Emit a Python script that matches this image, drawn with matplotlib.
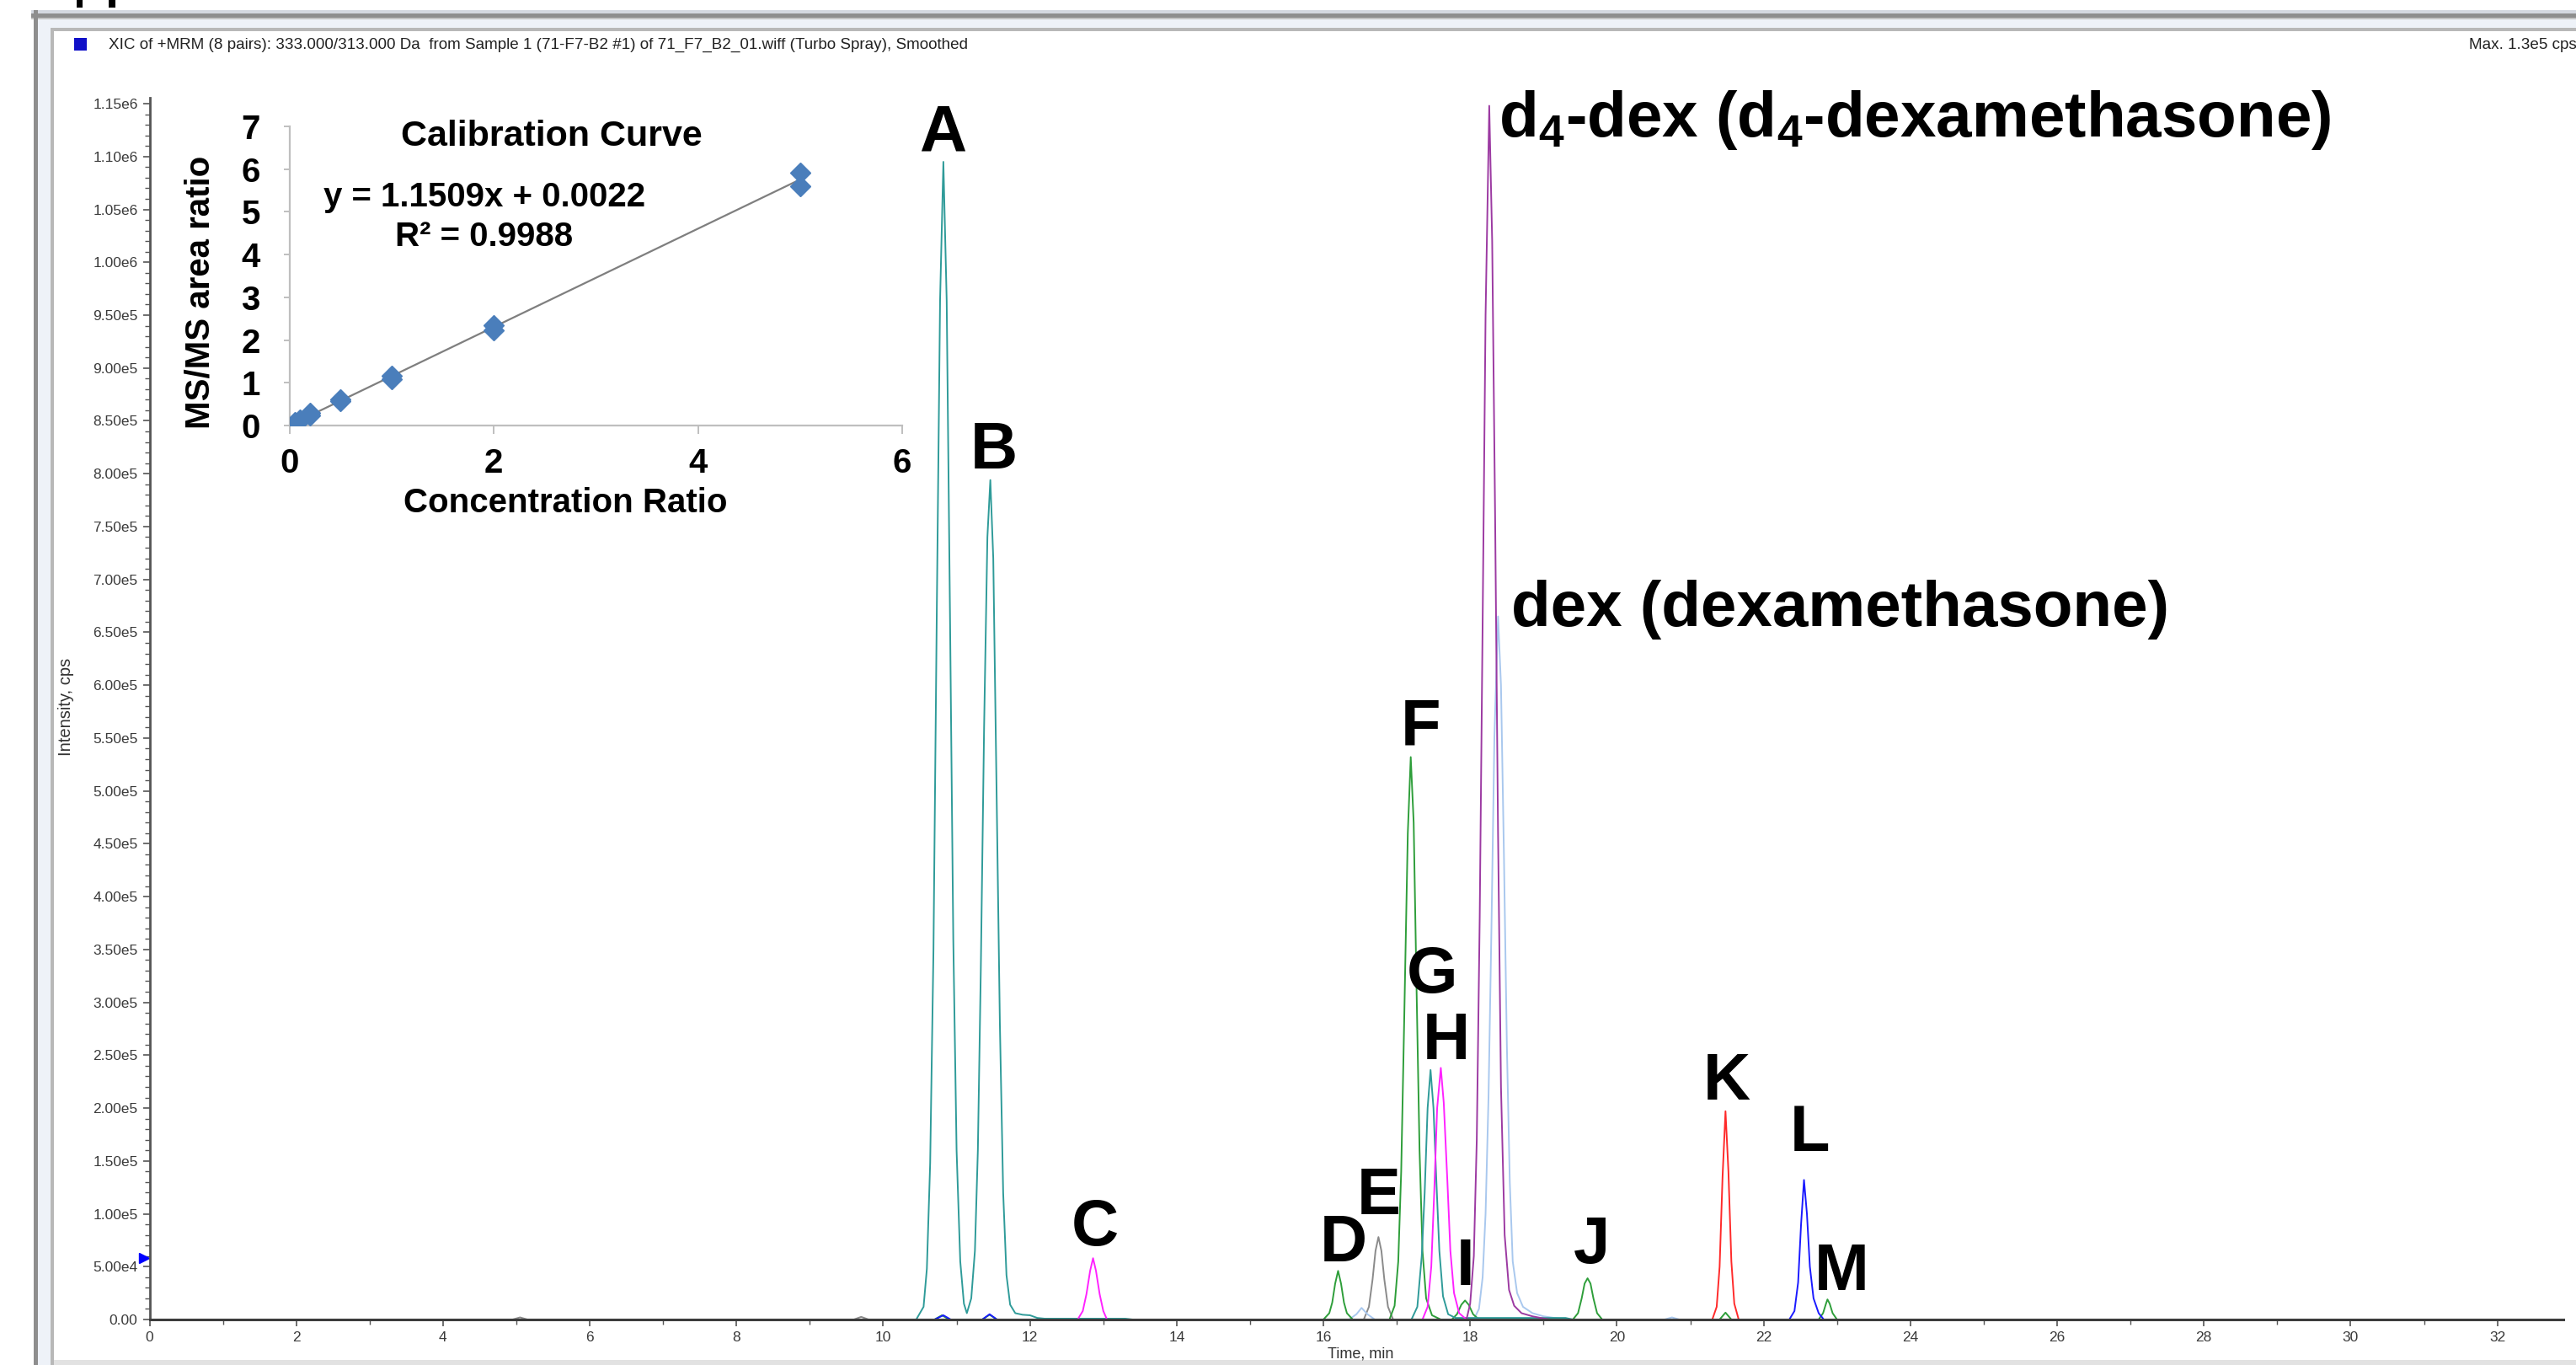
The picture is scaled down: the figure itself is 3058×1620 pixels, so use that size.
import numpy as np
import matplotlib.pyplot as plt
from matplotlib.patches import Rectangle
from matplotlib.ticker import MultipleLocator, FuncFormatter

plt.rcParams['font.family'] = ['Liberation Sans', 'DejaVu Sans']
plt.rcParams['mathtext.default'] = 'regular'

W, H = 3058, 1620

# --- calibration curve (inset) ---
calib_x = [0.05, 0.05, 0.1, 0.1, 0.2, 0.2, 0.5, 0.5, 1, 1, 2, 2, 5, 5]
calib_y = [0.05, 0.07, 0.12, 0.14, 0.24, 0.30, 0.57, 0.62, 1.08, 1.16, 2.22, 2.35, 5.60, 5.91]
fit_slope = 1.1509
fit_intercept = 0.0022
fit_r2 = 0.9988

# --- XIC traces: (time min, intensity cps) ---
teal = [(0, 0), (10.45, 0), (10.55, 1.2e4), (10.595, 4.8e4), (10.64, 1.48e5), (10.685, 3.5e5),
        (10.73, 6.68e5), (10.775, 9.64e5), (10.82, 1.095e6), (10.865, 9.64e5), (10.91, 6.68e5),
        (10.955, 3.6e5), (11.0, 1.6e5), (11.05, 5.5e4), (11.1, 1.5e4), (11.14, 6e3),
        (11.2, 2e4), (11.25, 6.5e4), (11.29, 1.6e5), (11.33, 3.3e5), (11.375, 5.6e5), (11.42, 7.4e5),
        (11.46, 7.94e5), (11.5, 7.2e5), (11.545, 5.0e5), (11.59, 2.8e5), (11.635, 1.2e5),
        (11.68, 4.2e4), (11.73, 1.4e4), (11.8, 6e3), (11.9, 4.5e3), (12.0, 4e3), (12.1, 1.5e3),
        (12.2, 800), (13.3, 800), (13.4, 0), (17.2, 0), (17.28, 1.2e4), (17.34, 6e4), (17.38, 1.2e5),
        (17.42, 2.0e5), (17.46, 2.36e5), (17.5, 2.0e5), (17.54, 1.3e5), (17.58, 6.5e4),
        (17.63, 2.2e4), (17.7, 5e3), (17.8, 1.5e3), (19.3, 1.5e3), (19.4, 0), (23.5, 0)]
green = [(0, 0), (10.7, 0), (10.8, 4e3), (10.9, 0), (11.35, 0), (11.45, 4.5e3), (11.55, 0),
         (16.0, 0), (16.08, 6e3), (16.12, 1.6e4), (16.16, 3.4e4), (16.2, 4.6e4), (16.24, 3.4e4),
         (16.28, 1.6e4), (16.32, 6e3), (16.4, 0), (16.9, 0), (16.97, 1.3e4), (17.02, 5.5e4),
         (17.06, 1.4e5), (17.1, 2.8e5), (17.15, 4.6e5), (17.19, 5.32e5), (17.23, 4.7e5),
         (17.27, 3.1e5), (17.31, 1.6e5), (17.35, 6.5e4), (17.4, 2e4), (17.48, 4e3), (17.6, 0),
         (17.75, 0), (17.82, 5e3), (17.88, 1.4e4), (17.93, 1.8e4), (17.98, 1.4e4), (18.04, 5e3),
         (18.12, 0), (19.4, 0), (19.47, 6e3), (19.52, 2e4), (19.56, 3.4e4), (19.6, 3.9e4),
         (19.64, 3.4e4), (19.68, 2e4), (19.73, 6e3), (19.8, 0), (21.4, 0), (21.48, 6.5e3),
         (21.56, 0), (22.75, 0), (22.81, 6e3), (22.85, 1.5e4), (22.87, 1.9e4), (22.9, 1.5e4),
         (22.94, 6e3), (23.0, 0), (23.5, 0)]
magenta = [(0, 0), (12.65, 0), (12.72, 8e3), (12.77, 2.4e4), (12.82, 4.6e4), (12.86, 5.8e4),
           (12.9, 4.6e4), (12.95, 2.4e4), (13.0, 8e3), (13.05, 0), (17.35, 0), (17.42, 1.2e4),
           (17.47, 5e4), (17.51, 1.2e5), (17.55, 2.0e5), (17.6, 2.38e5), (17.64, 2.05e5),
           (17.69, 1.3e5), (17.73, 6.5e4), (17.78, 2.5e4), (17.85, 6e3), (17.95, 0), (23.5, 0)]
gray = [(0, 0), (4.95, 0), (5.05, 2e3), (5.15, 0), (9.6, 0), (9.7, 2.5e3), (9.8, 0),
        (16.55, 0), (16.62, 1.2e4), (16.67, 3.8e4), (16.71, 6.5e4), (16.75, 7.8e4),
        (16.79, 6.5e4), (16.83, 3.8e4), (16.88, 1.2e4), (16.95, 0), (23.5, 0)]
purple = [(0, 0), (17.95, 0), (18.0, 1.5e4), (18.05, 6e4), (18.09, 1.7e5), (18.13, 3.8e5),
          (18.17, 6.6e5), (18.21, 9.5e5), (18.26, 1.148e6), (18.3, 1.02e6), (18.34, 7.6e5),
          (18.38, 4.6e5), (18.42, 2.2e5), (18.47, 8e4), (18.53, 2.8e4), (18.6, 1.3e4),
          (18.7, 6e3), (18.85, 3e3), (19.0, 1e3), (19.1, 0), (23.5, 0)]
lightblue = [(0, 0), (16.35, 0), (16.45, 5e3), (16.52, 1.1e4), (16.6, 5e3), (16.7, 0),
             (18.05, 0), (18.12, 1e4), (18.17, 4e4), (18.21, 1.0e5), (18.25, 2.1e5),
             (18.29, 3.7e5), (18.33, 5.5e5), (18.38, 6.65e5), (18.42, 6.0e5), (18.46, 4.4e5),
             (18.5, 2.6e5), (18.54, 1.3e5), (18.58, 5.5e4), (18.64, 2.5e4), (18.72, 1.2e4),
             (18.85, 6e3), (19.0, 3e3), (19.2, 1e3), (19.4, 0), (20.65, 0), (20.75, 2e3),
             (20.85, 0), (23.5, 0)]
red = [(0, 0), (21.3, 0), (21.36, 1.2e4), (21.4, 5e4), (21.44, 1.35e5), (21.48, 1.97e5),
       (21.52, 1.4e5), (21.56, 5.5e4), (21.6, 1.5e4), (21.66, 0), (23.5, 0)]
blue = [(0, 0), (10.7, 0), (10.82, 4e3), (10.92, 0), (11.35, 0), (11.45, 5e3), (11.55, 0),
        (22.35, 0), (22.42, 8e3), (22.47, 3.5e4), (22.51, 9e4), (22.55, 1.32e5), (22.59, 1.0e5),
        (22.63, 5e4), (22.68, 2e4), (22.75, 6e3), (22.82, 0), (23.5, 0)]

peak_names = ['A', 'B', 'C', 'D', 'E', 'F', 'G', 'H', 'I', 'J', 'K', 'L', 'M']
header = 'XIC of +MRM (8 pairs): 333.000/313.000 Da  from Sample 1 (71-F7-B2 #1) of 71_F7_B2_01.wiff (Turbo Spray), Smoothed'
max_text = 'Max. 1.3e5 cps'
marker_level = 5.8e4

# label anchor positions (time, baseline intensity)
label_pos = [(10.81, 1.105e6), (11.51, 8.05e5), (12.88, 7.0e4), (16.27, 5.5e4), (16.75, 1.0e5),
             (17.33, 5.43e5), (17.48, 3.09e5), (17.67, 2.46e5), (17.93, 3.3e4), (19.66, 5.3e4),
             (21.50, 2.08e5), (22.63, 1.59e5), (23.06, 2.8e4)]

fig = plt.figure(figsize=(W / 100, H / 100), dpi=100)


def frame_rect(x0, y0, x1, y1, color):
    fig.add_artist(Rectangle((x0 / W, 1 - y1 / H), (x1 - x0) / W, (y1 - y0) / H,
                             transform=fig.transFigure, color=color, lw=0, zorder=0))


# window frame
frame_rect(91, 0, 98, 9, 'black')
frame_rect(129, 0, 137, 9, 'black')
frame_rect(37, 12, W, 16, '#d4d8e0')
frame_rect(37, 16, W, 21, '#8e8e8e')
frame_rect(37, 21, W, 23, '#c4c4c4')
frame_rect(45, 23, W, 33, '#eef2f8')
frame_rect(60, 33, W, 37, '#b8b8b8')
frame_rect(40, 12, 45, H, '#8e8e8e')
frame_rect(45, 23, 60, H, '#eef2f8')
frame_rect(60, 33, 64, H, '#b8b8b8')
frame_rect(64, H - 6, W, H, '#e2e2e2')

# header
frame_rect(88, 45, 103, 60, '#1010c8')
fig.text(129 / W, 1 - 53 / H, header, fontsize=13.6, color='#222222', ha='left', va='center')
fig.text(2931 / W, 1 - 53 / H, max_text, fontsize=13.6, color='#222222', ha='left', va='center')

# main chromatogram axes
ax = fig.add_axes([177.5 / W, 1 - 1566 / H, (3043 - 177.5) / W, (1566 - 116) / H])
ax.set_xlim(0, 32.9)
ax.set_ylim(0, 1.1556e6)

traces = [(gray, '#8a8a8a'), (lightblue, '#a9c8ee'), (green, '#2e9e3a'), (teal, '#2f9b99'),
          (magenta, '#ff22ff'), (purple, '#9c3aa2'), (red, '#ff2a2a'), (blue, '#1a1aff')]
for pts, col in traces:
    arr = np.array(pts)
    ax.plot(arr[:, 0], arr[:, 1], color=col, lw=1.4)

for name, (t, y) in zip(peak_names, label_pos):
    ax.text(t, y, name, fontsize=56, fontweight='bold', ha='center', va='baseline')

ax.text(18.39, 1.119e6, 'd$_4$-dex (d$_4$-dexamethasone)', fontsize=55, fontweight='bold',
        ha='left', va='baseline')
ax.text(18.56, 6.56e5, 'dex (dexamethasone)', fontsize=55, fontweight='bold',
        ha='left', va='baseline')

ax.plot([-0.07], [marker_level], marker='>', ms=8, color='#0000ff', clip_on=False)

for s in ['top', 'right']:
    ax.spines[s].set_visible(False)
ax.spines['left'].set_color('#555555')
ax.spines['left'].set_linewidth(2)
ax.spines['bottom'].set_color('#3c3c3c')
ax.spines['bottom'].set_linewidth(2.2)


def sci_fmt(v, pos):
    v = round(v)
    if v < 0:
        return ''
    if v == 0:
        return '0.00'
    e = int(np.floor(np.log10(v)))
    return f'{v / 10 ** e:.2f}e{e}'


ax.xaxis.set_major_locator(MultipleLocator(2))
ax.xaxis.set_minor_locator(MultipleLocator(1))
ax.yaxis.set_major_locator(MultipleLocator(5e4))
ax.yaxis.set_minor_locator(MultipleLocator(1e4))
ax.yaxis.set_major_formatter(FuncFormatter(sci_fmt))
ax.tick_params(axis='both', which='major', length=6, width=1.2, color='#555555',
               labelsize=12.5, labelcolor='#3a3a3a', pad=4)
ax.tick_params(axis='both', which='minor', length=4, width=1, color='#555555')

fig.text(78 / W, 1 - 839 / H, 'Intensity, cps', rotation=90, fontsize=14.5, color='#333333',
         ha='center', va='center')
fig.text(1615 / W, 1 - 1607 / H, 'Time, min', fontsize=13, color='#333333',
         ha='center', va='center')

# calibration inset
iax = fig.add_axes([343.5 / W, 1 - 505 / H, (1071 - 343.5) / W, (505 - 150) / H])
iax.set_facecolor('none')
iax.set_xlim(0, 6)
iax.set_ylim(0, 7)
fx = np.array([min(calib_x), max(calib_x)])
iax.plot(fx, fit_slope * fx + fit_intercept, color='#7f7f7f', lw=1.6)
iax.plot(calib_x, calib_y, 'D', ms=12, color='#4a7ebb', zorder=3)
for s in ['top', 'right']:
    iax.spines[s].set_visible(False)
for s in ['left', 'bottom']:
    iax.spines[s].set_color('#bfbfbf')
    iax.spines[s].set_linewidth(1.6)
iax.set_xticks([0, 2, 4, 6])
iax.set_xticklabels(['0', '2', '4', '6'], fontsize=29, fontweight='bold')
iax.set_yticks(range(8))
iax.set_yticklabels([str(i) for i in range(8)], fontsize=29, fontweight='bold')
iax.tick_params(axis='x', length=7, width=1.4, color='#bfbfbf', pad=12)
iax.tick_params(axis='y', length=5, width=1.4, color='#bfbfbf', pad=20)

fig.text(655 / W, 1 - 162 / H, 'Calibration Curve', fontsize=31, fontweight='bold',
         ha='center', va='center')
fig.text(575 / W, 1 - 234 / H, f'y = {fit_slope:.4f}x + {fit_intercept:.4f}', fontsize=29,
         fontweight='bold', ha='center', va='center')
fig.text(575 / W, 1 - 281 / H, f'R\u00b2 = {fit_r2:.4f}', fontsize=29, fontweight='bold',
         ha='center', va='center')
fig.text(238 / W, 1 - 347 / H, 'MS/MS area ratio', rotation=90, fontsize=29, fontweight='bold',
         ha='center', va='center')
fig.text(671 / W, 1 - 597 / H, 'Concentration Ratio', fontsize=29, fontweight='bold',
         ha='center', va='center')

fig.savefig('out.png', dpi=100, facecolor='white')
